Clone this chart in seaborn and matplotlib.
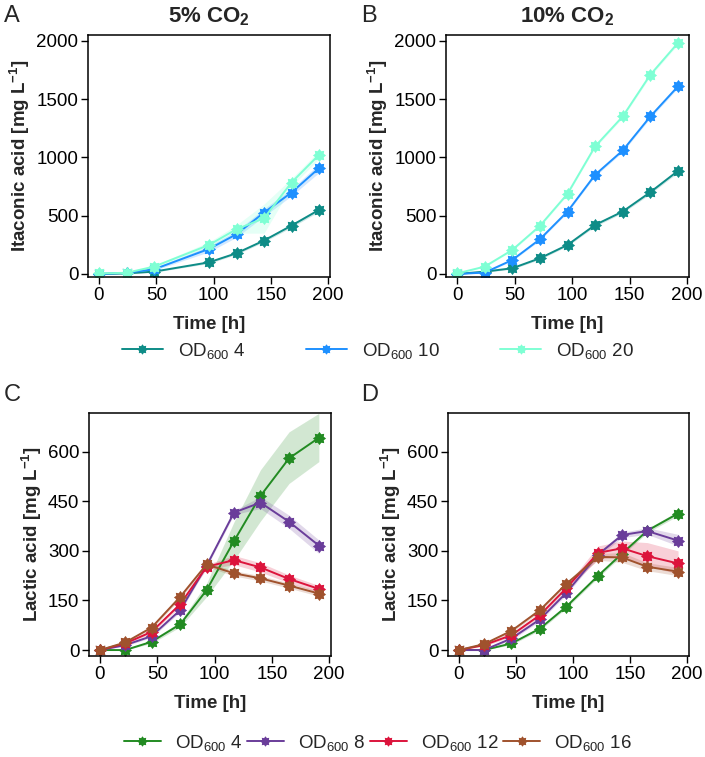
import matplotlib
matplotlib.use("Agg")
import matplotlib.pyplot as plt
from matplotlib.lines import Line2D
from matplotlib.path import Path
import numpy as np
import seaborn as sns
import pandas as pd

# ---------------- data ----------------
time_A = [0, 24, 48, 96, 120, 144, 168, 192]
A_od4 = [0, 5, 20, 100, 178, 287, 415, 550]
A_od4_lo = [0, 2, 15, 90, 168, 275, 400, 535]
A_od4_hi = [0, 8, 25, 110, 188, 299, 430, 565]
A_od10 = [0, 10, 40, 215, 341, 527, 699, 908]
A_od10_lo = [0, 5, 30, 190, 315, 495, 670, 870]
A_od10_hi = [0, 15, 50, 240, 370, 560, 730, 945]
A_od20 = [5, 10, 63, 249, 384, 478, 785, 1023]
A_od20_lo = [0, 5, 50, 225, 350, 350, 750, 990]
A_od20_hi = [10, 15, 75, 275, 420, 600, 820, 1055]

time_B = [0, 24, 48, 72, 96, 120, 144, 168, 192]
B_od4 = [0, 20, 49, 135, 249, 421, 536, 702, 885]
B_od10 = [0, 12, 120, 298, 536, 851, 1060, 1352, 1610]
B_od20 = [5, 63, 206, 413, 688, 1095, 1352, 1710, 1983]
B_spread = [0, 5, 8, 10, 10, 12, 12, 14, 14]

time_C = [0, 22, 45, 70, 93, 117, 140, 165, 191]
C_od4 = [0, 0, 25, 78, 181, 330, 466, 580, 642]
C_od4_lo = [0, 0, 20, 70, 161, 272, 390, 504, 570]
C_od4_hi = [0, 2, 30, 86, 202, 388, 545, 660, 716]
C_od8 = [0, 15, 42, 121, 255, 416, 446, 388, 316]
C_od8_lo = [0, 12, 38, 115, 250, 410, 428, 368, 292]
C_od8_hi = [0, 18, 46, 127, 262, 422, 464, 408, 333]
C_od12 = [0, 20, 55, 139, 252, 272, 250, 215, 185]
C_od12_lo = [0, 17, 50, 132, 245, 258, 236, 203, 175]
C_od12_hi = [0, 23, 60, 146, 259, 286, 264, 227, 195]
C_od16 = [0, 23, 68, 161, 259, 232, 217, 195, 171]
C_od16_lo = [0, 20, 63, 155, 252, 224, 209, 187, 163]
C_od16_hi = [0, 26, 73, 167, 266, 240, 225, 203, 179]

time_D = [0, 22, 46, 71, 94, 122, 143, 165, 192]
D_od4 = [0, 0, 20, 65, 131, 225, 292, 361, 413]
D_od4_lo = [0, 0, 16, 60, 126, 219, 286, 355, 406]
D_od4_hi = [0, 0, 24, 70, 136, 231, 298, 367, 420]
D_od8 = [0, 0, 35, 93, 173, 289, 348, 360, 331]
D_od8_lo = [0, 0, 30, 88, 167, 283, 340, 350, 315]
D_od8_hi = [0, 0, 40, 98, 179, 295, 356, 370, 350]
D_od12 = [0, 15, 45, 106, 187, 294, 308, 284, 262]
D_od12_lo = [0, 12, 40, 100, 180, 275, 282, 255, 230]
D_od12_hi = [0, 18, 50, 112, 194, 315, 330, 325, 300]
D_od16 = [0, 18, 58, 121, 200, 282, 280, 252, 237]
D_od16_lo = [0, 15, 53, 115, 194, 272, 265, 240, 225]
D_od16_hi = [0, 21, 63, 127, 206, 292, 295, 264, 250]

ita_labels = ["OD$_{600}$ 4", "OD$_{600}$ 10", "OD$_{600}$ 20"]
lac_labels = ["OD$_{600}$ 4", "OD$_{600}$ 8", "OD$_{600}$ 12", "OD$_{600}$ 16"]
ita_colors = ["#0E8C87", "#1E90FF", "#7FFFD4"]
lac_colors = ["#228B22", "#6A3D9A", "#DC143C", "#A0522D"]

# ---------------- style ----------------
sns.set_theme(style="ticks")
plt.rcParams["font.family"] = ["Liberation Sans", "DejaVu Sans"]
plt.rcParams["mathtext.fontset"] = "custom"
plt.rcParams["mathtext.rm"] = "Liberation Sans"
plt.rcParams["mathtext.it"] = "Liberation Sans:italic"
plt.rcParams["mathtext.bf"] = "Liberation Sans:bold"

FS_TICK = 13.5
FS_LAB = 13.5
FS_LEG = 13.5

fig = plt.figure(figsize=(7.05, 7.57), dpi=100)
W, H = 705, 757


def add_ax(left, right, top, bottom):
    return fig.add_axes([left / W, 1 - bottom / H, (right - left) / W, (bottom - top) / H])


axA = add_ax(88, 330, 35, 277)
axB = add_ax(446, 689, 35, 277)
axC = add_ax(89, 331, 413, 656)
axD = add_ax(448, 689, 413, 656)

# chunky 8-pointed star marker (plus + x blob)
_ang = np.arange(16) * np.pi / 8
_rad = np.where(np.arange(16) % 2 == 0, 1.0, 0.7)
_verts = np.column_stack([_rad * np.sin(_ang), _rad * np.cos(_ang)])
_verts = np.vstack([_verts, _verts[:1]])
MARKER = Path(_verts, closed=True)


def draw(ax, t, series, los, his, labels, colors):
    rows = []
    for lab, ys in zip(labels, series):
        for tt, yy in zip(t, ys):
            rows.append({"time": tt, "value": yy, "group": lab})
    df = pd.DataFrame(rows)
    for lab, c, lo, hi in zip(labels, colors, los, his):
        ax.fill_between(t, lo, hi, color=c, alpha=0.2, lw=0)
    sns.lineplot(data=df, x="time", y="value", hue="group", hue_order=labels,
                 palette=dict(zip(labels, colors)), marker=MARKER, markersize=9.5,
                 markeredgewidth=0, lw=1.4, estimator=None, errorbar=None,
                 legend=False, ax=ax)


draw(axA, time_A, [A_od4, A_od10, A_od20],
     [A_od4_lo, A_od10_lo, A_od20_lo], [A_od4_hi, A_od10_hi, A_od20_hi],
     ita_labels, ita_colors)
draw(axB, time_B, [B_od4, B_od10, B_od20],
     [[v - s for v, s in zip(B_od4, B_spread)], [v - s for v, s in zip(B_od10, B_spread)],
      [v - s for v, s in zip(B_od20, B_spread)]],
     [[v + s for v, s in zip(B_od4, B_spread)], [v + s for v, s in zip(B_od10, B_spread)],
      [v + s for v, s in zip(B_od20, B_spread)]],
     ita_labels, ita_colors)
draw(axC, time_C, [C_od4, C_od8, C_od12, C_od16],
     [C_od4_lo, C_od8_lo, C_od12_lo, C_od16_lo], [C_od4_hi, C_od8_hi, C_od12_hi, C_od16_hi],
     lac_labels, lac_colors)
draw(axD, time_D, [D_od4, D_od8, D_od12, D_od16],
     [D_od4_lo, D_od8_lo, D_od12_lo, D_od16_lo], [D_od4_hi, D_od8_hi, D_od12_hi, D_od16_hi],
     lac_labels, lac_colors)

for ax in (axA, axB):
    ax.set_ylim(-26, 2051)
    ax.set_yticks([0, 500, 1000, 1500, 2000])
    ax.set_ylabel("Itaconic acid [mg L$^{\\mathbf{-1}}$]", fontsize=FS_LAB,
                  fontweight="bold", labelpad=3)
for ax in (axC, axD):
    ax.set_ylim(-18, 717)
    ax.set_yticks([0, 150, 300, 450, 600])
    ax.set_ylabel("Lactic acid [mg L$^{\\mathbf{-1}}$]", fontsize=FS_LAB,
                  fontweight="bold", labelpad=3)

for ax in (axA, axB, axC, axD):
    ax.set_xlim(-9.6, 201.6)
    ax.set_xticks([0, 50, 100, 150, 200])
    ax.set_xlabel("Time [h]", fontsize=FS_LAB, fontweight="bold", labelpad=9)
    ax.tick_params(axis="both", labelsize=FS_TICK, length=5, width=1, color="black",
                   labelcolor="black", direction="out", pad=2)
    for sp in ax.spines.values():
        sp.set_visible(True)
        sp.set_linewidth(1.1)
        sp.set_color("black")
    ax.grid(False)

axA.set_title("5% CO$_{\\mathbf{2}}$", fontsize=16, fontweight="bold", pad=9)
axB.set_title("10% CO$_{\\mathbf{2}}$", fontsize=16, fontweight="bold", pad=9)

for letter, x, y in (("A", 4, 5), ("B", 361, 5), ("C", 4, 384), ("D", 361, 384)):
    fig.text(x / W, 1 - y / H, letter, fontsize=17, va="top", ha="left")


def handles(labels, colors):
    return [Line2D([0], [0], color=c, lw=1.4, marker=MARKER, markersize=7.5,
                   markeredgewidth=0, label=l)
            for l, c in zip(labels, colors)]


fig.legend(handles=handles(ita_labels, ita_colors), loc="center", ncol=3,
           bbox_to_anchor=(378 / W, 1 - 351 / H), frameon=False, fontsize=FS_LEG,
           handlelength=2.2, handletextpad=0.8, columnspacing=3.2)
fig.legend(handles=handles(lac_labels, lac_colors), loc="center", ncol=4,
           bbox_to_anchor=(378 / W, 1 - 743 / H), frameon=False, fontsize=FS_LEG,
           handlelength=2.0, handletextpad=0.75, columnspacing=0.2)

fig.savefig("out.png", dpi=100)
